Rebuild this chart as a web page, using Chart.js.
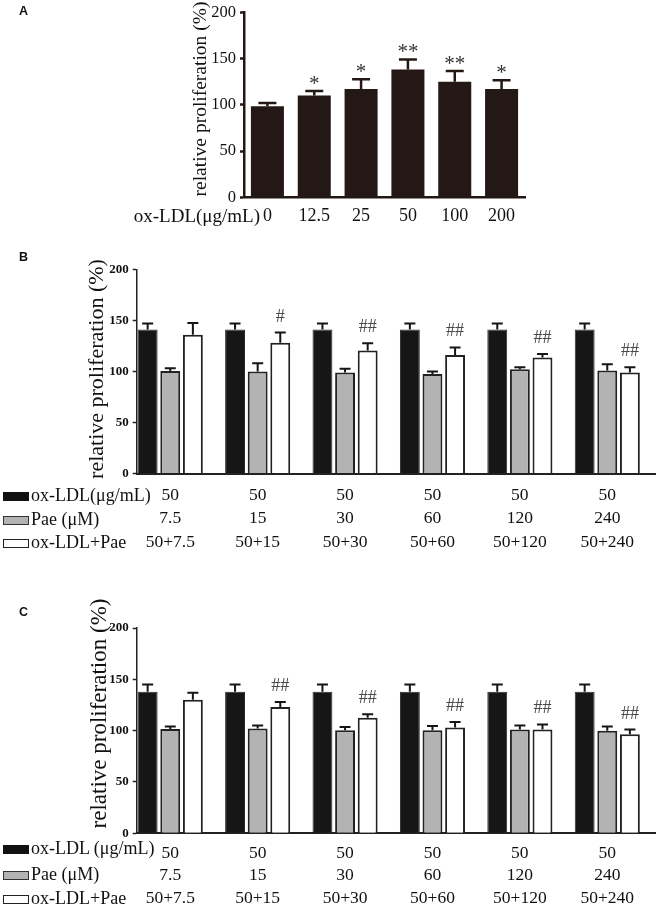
<!DOCTYPE html>
<html><head><meta charset="utf-8">
<script src="https://cdn.jsdelivr.net/npm/chart.js@4.4.0/dist/chart.umd.min.js"></script>
<style>
html,body{margin:0;padding:0;background:#fff;}
#wrap{position:relative;width:668px;height:907px;overflow:hidden;font-family:"Liberation Serif","Times New Roman",serif;color:#111;}
canvas{position:absolute;left:0;}
.panel{position:absolute;left:19px;font-family:"Liberation Sans",Arial,sans-serif;font-weight:bold;font-size:12.5px;line-height:14px;}
.row{position:absolute;left:0;height:20px;line-height:20px;font-size:18px;white-space:nowrap;}
.row span.t{position:absolute;left:31px;top:0;}
.row span.b{position:absolute;left:3px;width:26px;height:9px;box-sizing:border-box;top:7px;}
</style></head><body>
<div id="wrap">
<canvas id="cA" width="668" height="232" style="top:0px"></canvas>
<canvas id="cB" width="668" height="320" style="top:236px"></canvas>
<canvas id="cC" width="668" height="317" style="top:590px"></canvas>
<div class="panel" style="top:4px">A</div>
<div class="panel" style="top:250px">B</div>
<div class="panel" style="top:605px">C</div>
<div id="labA" style="position:absolute;right:408px;top:205px;font-size:19px;line-height:22px;white-space:nowrap;">ox-LDL(μg/mL)</div>
<div id="rowsB"></div>
<div id="rowsC"></div>
</div>
<script>
// ---------- data ----------
const doseA = ['0', '12.5', '25', '50', '100', '200'];
const meanA = [98.5, 110, 117, 138, 125, 117];
const semA  = [3.5, 5, 10.5, 11, 11.5, 9.5];
const sigA  = ['', '*', '*', '**', '**', '*'];

const oxLDL     = ['50', '50', '50', '50', '50', '50'];
const paeDose   = ['7.5', '15', '30', '60', '120', '240'];
const comboDose = ['50+7.5', '50+15', '50+30', '50+60', '50+120', '50+240'];
const rowHeadsB = ['ox-LDL(μg/mL)', 'Pae (μM)', 'ox-LDL+Pae'];
const rowHeadsC = ['ox-LDL (μg/mL)', 'Pae (μM)', 'ox-LDL+Pae'];

const meanB_ox    = [141, 141, 141, 141, 141, 141];
const semB_ox     = [6, 6, 6, 6, 6, 6];
const meanB_pae   = [100.5, 100, 99, 97.5, 102, 101];
const semB_pae    = [2.5, 8, 3.5, 2.5, 2, 6];
const meanB_combo = [136, 128, 120.5, 116, 113.5, 99];
const semB_combo  = [11.5, 10, 7, 7.5, 3.5, 5];
const sigB        = ['', '#', '##', '##', '##', '##'];

const meanC_ox    = [138, 138, 138, 138, 138, 138];
const semC_ox     = [7, 7, 7, 7, 7, 7];
const meanC_pae   = [101.5, 102, 100.5, 100.5, 101, 100];
const semC_pae    = [2.5, 3, 3, 4, 4, 4];
const meanC_combo = [130, 123, 112.5, 103, 101, 96.5];
const semC_combo  = [7, 5, 3.5, 5.5, 5, 4.5];
const sigC        = ['', '##', '##', '##', '##', '##'];

const yTicks = [0, 50, 100, 150, 200];

// ---------- plugins ----------
const SERIF = "'Liberation Serif', 'Times New Roman', serif";
const errorBars = {
  id: 'errorBars',
  afterDatasetsDraw(chart) {
    const ctx = chart.ctx, y = chart.scales.y;
    chart.data.datasets.forEach((ds, di) => {
      if (!ds.sem) return;
      const meta = chart.getDatasetMeta(di);
      meta.data.forEach((bar, i) => {
        const d = ds.data[i];
        const v = typeof d === 'object' ? d.y : d;
        const yTop = y.getPixelForValue(v + ds.sem[i]);
        ctx.save();
        ctx.strokeStyle = ds.errColor || '#111';
        ctx.lineWidth = ds.errWidth || 2;
        ctx.beginPath();
        ctx.moveTo(bar.x, bar.y);
        ctx.lineTo(bar.x, yTop);
        ctx.moveTo(bar.x - ds.cap / 2, yTop);
        ctx.lineTo(bar.x + ds.cap / 2, yTop);
        ctx.stroke();
        if (ds.sig && ds.sig[i]) {
          ctx.fillStyle = ds.sigColor || '#333';
          ctx.font = ds.sigFont;
          ctx.textAlign = 'center';
          ctx.textBaseline = 'alphabetic';
          ctx.fillText(ds.sig[i], bar.x, yTop - ds.sigOffset);
        }
        ctx.restore();
      });
    });
  }
};
const vTitle = {
  id: 'vTitle',
  afterDraw(chart, args, o) {
    const ctx = chart.ctx;
    ctx.save();
    ctx.translate(o.x, o.y);
    ctx.rotate(-Math.PI / 2);
    ctx.font = o.font;
    ctx.fillStyle = '#111';
    ctx.textAlign = 'center';
    ctx.textBaseline = 'middle';
    ctx.fillText('relative proliferation (%)', 0, 0);
    ctx.restore();
  }
};

function yScale(width, font, tickColor, bw) {
  return {
    min: 0, max: 200,
    afterBuildTicks: s => { s.ticks = yTicks.map(v => ({ value: v })); },
    grid: { display: true, drawOnChartArea: false, tickLength: 4, tickColor: tickColor, tickWidth: bw },
    border: { color: tickColor, width: bw },
    ticks: { font: font, color: '#111', padding: 4 },
    afterFit: s => { s.width = width; }
  };
}

// ---------- Panel A ----------
new Chart(document.getElementById('cA'), {
  type: 'bar',
  data: {
    labels: doseA,
    datasets: [{
      data: meanA, sem: semA, sig: sigA,
      backgroundColor: '#231815', borderWidth: 0,
      barPercentage: 0.705, categoryPercentage: 1,
      cap: 18, errWidth: 2.5, errColor: '#231815',
      sigFont: '21px ' + SERIF, sigColor: '#333', sigOffset: 1
    }]
  },
  options: {
    responsive: false, animation: false, devicePixelRatio: 1,
    layout: { padding: { left: 0, right: 143, top: 10, bottom: 0 } },
    plugins: { legend: { display: false }, tooltip: { enabled: false },
      vTitle: { x: 201, y: 99, font: '19.5px ' + SERIF } },
    scales: {
      x: {
        offset: true,
        grid: { display: false, drawTicks: false },
        border: { color: '#231815', width: 2.5 },
        ticks: { font: { family: SERIF, size: 18, lineHeight: 1 }, color: '#111', padding: 10 },
        afterFit: s => { s.height = 34.7; }
      },
      y: yScale(244, { family: SERIF, size: 16.5, lineHeight: 1 }, '#231815', 2.5)
    }
  },
  plugins: [errorBars, vTitle]
});

// ---------- Panels B and C ----------
function groupChart(id, ox, oxS, pae, paeS, combo, comboS, sig, cfg) {
  const common = { barPercentage: 0.88, categoryPercentage: 0.776, cap: 11, errWidth: 2, errColor: '#151515' };
  return new Chart(document.getElementById(id), {
    type: 'bar',
    data: {
      datasets: [
        Object.assign({ data: ox.map((v, i) => ({ x: i, y: v })), sem: oxS,
          backgroundColor: '#161616', borderColor: '#2a2a2a', borderWidth: 1 }, common),
        Object.assign({ data: pae.map((v, i) => ({ x: i, y: v })), sem: paeS,
          backgroundColor: '#b3b3b3', borderColor: '#222', borderWidth: 2 }, common),
        Object.assign({ data: combo.map((v, i) => ({ x: i, y: v })), sem: comboS, sig: sig,
          backgroundColor: '#ffffff', borderColor: '#222', borderWidth: 2,
          sigFont: '18px ' + SERIF, sigColor: '#4a4a4a', sigOffset: 11 }, common)
      ]
    },
    options: {
      responsive: false, animation: false, devicePixelRatio: 1,
      layout: { padding: { left: 0, right: 13, top: cfg.top, bottom: 0 } },
      plugins: { legend: { display: false }, tooltip: { enabled: false },
        vTitle: { x: cfg.tx, y: cfg.ty, font: cfg.tfont } },
      scales: {
        x: {
          type: 'linear', min: -0.384, max: 5.546, offset: false,
          afterBuildTicks: s => { s.ticks = oxLDL.map((_, i) => ({ value: i })); },
          grid: { display: false, drawTicks: false },
          border: { color: '#222', width: 2 },
          ticks: {
            callback: (v, i) => [oxLDL[i], paeDose[i], comboDose[i]],
            font: { family: SERIF, size: 17.5, lineHeight: cfg.lh },
            color: '#111', padding: cfg.pad, maxRotation: 0, autoSkip: false
          },
          afterFit: s => { s.height = cfg.xh; }
        },
        y: yScale(136.7, { family: SERIF, size: 13, weight: 'bold', lineHeight: 1 }, '#222', 1.5)
      }
    },
    plugins: [errorBars, vTitle]
  });
}

groupChart('cB', meanB_ox, semB_ox, meanB_pae, semB_pae, meanB_combo, semB_combo, sigB,
  { top: 33.3, xh: 82.5, lh: 23.5 / 17.5, pad: 9.75, tx: 97, ty: 133, tfont: '22px ' + SERIF });
groupChart('cC', meanC_ox, semC_ox, meanC_pae, semC_pae, meanC_combo, semC_combo, sigC,
  { top: 38, xh: 73.7, lh: 22.5 / 17.5, pad: 8.5, tx: 100, ty: 123.5, tfont: '23px ' + SERIF });

// ---------- row headers (legend-like boxes) ----------
const boxStyles = [
  'background:#111;',
  'background:#b3b3b3;border:1px solid #333;',
  'background:#fff;border:1px solid #222;'
];
function rows(elId, heads, centers) {
  const el = document.getElementById(elId);
  heads.forEach((h, i) => {
    const r = document.createElement('div');
    r.className = 'row';
    r.style.top = (centers[i] - 10) + 'px';
    r.innerHTML = '<span class="b" style="' + boxStyles[i] + '"></span><span class="t">' + h + '</span>';
    el.appendChild(r);
  });
}
rows('rowsB', rowHeadsB, [495, 518.5, 542]);
rows('rowsC', rowHeadsC, [848, 874, 898]);
</script>
</body></html>
